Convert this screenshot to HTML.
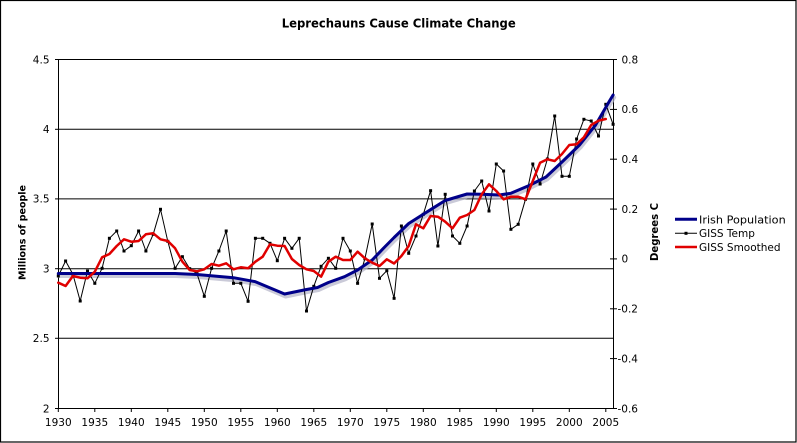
<!DOCTYPE html>
<html><head><meta charset="utf-8"><style>
html,body{margin:0;padding:0;background:#fff;}
svg{display:block;}
text{font-family:"DejaVu Sans","Liberation Sans",sans-serif;fill:#000;}
</style></head><body>
<svg width="797" height="443" viewBox="0 0 797 443" xmlns="http://www.w3.org/2000/svg">
<rect x="0.5" y="0.5" width="795.5" height="441.5" fill="#fff" stroke="#000" stroke-width="1.2"/>
<text x="398.7" y="27.7" font-size="12" font-weight="bold" text-anchor="middle" textLength="234" lengthAdjust="spacingAndGlyphs">Leprechauns Cause Climate Change</text>

<!-- gridlines -->
<g stroke="#000" stroke-width="1">
<line x1="58" y1="59.5" x2="613.5" y2="59.5"/>
<line x1="58" y1="129.3" x2="613.5" y2="129.3"/>
<line x1="58" y1="198.9" x2="613.5" y2="198.9"/>
<line x1="58" y1="268.7" x2="613.5" y2="268.7"/>
<line x1="58" y1="338.3" x2="613.5" y2="338.3"/>
<line x1="58" y1="408.5" x2="613.5" y2="408.5"/>
<line x1="58.5" y1="59" x2="58.5" y2="409"/>
<line x1="613.5" y1="59" x2="613.5" y2="409"/>
<!-- left ticks -->
<line x1="55" y1="59.5" x2="58" y2="59.5"/>
<line x1="55" y1="129.3" x2="58" y2="129.3"/>
<line x1="55" y1="198.9" x2="58" y2="198.9"/>
<line x1="55" y1="268.7" x2="58" y2="268.7"/>
<line x1="55" y1="338.3" x2="58" y2="338.3"/>
<line x1="55" y1="408.5" x2="58" y2="408.5"/>
<!-- right ticks -->
<line x1="610" y1="59.5" x2="617" y2="59.5"/>
<line x1="610" y1="109.4" x2="617" y2="109.4"/>
<line x1="610" y1="159.2" x2="617" y2="159.2"/>
<line x1="610" y1="209.1" x2="617" y2="209.1"/>
<line x1="610" y1="258.9" x2="617" y2="258.9"/>
<line x1="610" y1="308.8" x2="617" y2="308.8"/>
<line x1="610" y1="358.6" x2="617" y2="358.6"/>
<line x1="610" y1="408.5" x2="617" y2="408.5"/>
<!-- bottom ticks -->
<line x1="58.3" y1="408" x2="58.3" y2="412"/>
<line x1="94.8" y1="408" x2="94.8" y2="412"/>
<line x1="131.3" y1="408" x2="131.3" y2="412"/>
<line x1="167.8" y1="408" x2="167.8" y2="412"/>
<line x1="204.3" y1="408" x2="204.3" y2="412"/>
<line x1="240.8" y1="408" x2="240.8" y2="412"/>
<line x1="277.3" y1="408" x2="277.3" y2="412"/>
<line x1="313.8" y1="408" x2="313.8" y2="412"/>
<line x1="350.3" y1="408" x2="350.3" y2="412"/>
<line x1="386.8" y1="408" x2="386.8" y2="412"/>
<line x1="423.3" y1="408" x2="423.3" y2="412"/>
<line x1="459.8" y1="408" x2="459.8" y2="412"/>
<line x1="496.3" y1="408" x2="496.3" y2="412"/>
<line x1="532.8" y1="408" x2="532.8" y2="412"/>
<line x1="569.3" y1="408" x2="569.3" y2="412"/>
<line x1="605.8" y1="408" x2="605.8" y2="412"/>
</g>

<!-- left labels -->
<g font-size="10.5" text-anchor="end">
<text x="49.5" y="63.3">4.5</text>
<text x="49.5" y="133.1">4</text>
<text x="49.5" y="202.7">3.5</text>
<text x="49.5" y="272.5">3</text>
<text x="49.5" y="342.1">2.5</text>
<text x="49.5" y="412.3">2</text>
</g>
<!-- right labels -->
<g font-size="10.5">
<text x="621.5" y="63.3">0.8</text>
<text x="621.5" y="113.2">0.6</text>
<text x="621.5" y="163">0.4</text>
<text x="621.5" y="212.9">0.2</text>
<text x="621.5" y="262.7">0</text>
<text x="617.5" y="312.6">-0.2</text>
<text x="617.5" y="362.4">-0.4</text>
<text x="617.5" y="412.3">-0.6</text>
</g>
<!-- x labels -->
<g font-size="10.5" text-anchor="middle">
<text x="58.3" y="426">1930</text>
<text x="94.8" y="426">1935</text>
<text x="131.3" y="426">1940</text>
<text x="167.8" y="426">1945</text>
<text x="204.3" y="426">1950</text>
<text x="240.8" y="426">1955</text>
<text x="277.3" y="426">1960</text>
<text x="313.8" y="426">1965</text>
<text x="350.3" y="426">1970</text>
<text x="386.8" y="426">1975</text>
<text x="423.3" y="426">1980</text>
<text x="459.8" y="426">1985</text>
<text x="496.3" y="426">1990</text>
<text x="532.8" y="426">1995</text>
<text x="569.3" y="426">2000</text>
<text x="605.8" y="426">2005</text>
</g>

<!-- axis titles -->
<text transform="translate(25.5,232.5) rotate(-90)" font-size="10" font-weight="bold" text-anchor="middle" textLength="95" lengthAdjust="spacingAndGlyphs">Millions of people</text>
<text transform="translate(658,232) rotate(-90)" font-size="10.5" font-weight="bold" text-anchor="middle" textLength="58" lengthAdjust="spacingAndGlyphs">Degrees C</text>

<!-- blue shadow -->
<polyline fill="none" stroke="#b4b4c8" stroke-opacity="0.7" stroke-width="4" stroke-linejoin="round" stroke-linecap="round" transform="translate(1,2.5)"
points="58.3,273.5 175.1,273.5 197,274.5 233.5,277.7 255.4,281.7 284.6,294 306.5,289.5 317.5,287.5 328.4,282.5 344.5,276.7 357.6,270 372.2,260 384.7,247 394.1,237.5 408.7,223.5 434.3,207.3 445.2,200.5 467.1,194 481.7,194.3 499.2,195 510.9,193.3 529.2,185.5 546,177 562,162 579.5,145 595.6,125 609.5,101 613.1,95"/>

<!-- GISS temp -->
<polyline fill="none" stroke="#000" stroke-width="1" stroke-linejoin="round"
points="58.3,276 65.6,261 72.9,274.3 80.2,301 87.5,271 94.8,283.3 102.1,268.3 109.4,238.3 116.7,231 124,251 131.3,245.7 138.6,231 145.9,251 153.2,234.3 160.5,209.3 167.8,241.3 175.1,268.3 182.4,256.7 189.7,268.7 197,273.7 204.3,296.3 211.6,268.3 218.9,251 226.2,231 233.5,283.3 240.8,283.3 248.1,301.3 255.4,238.3 262.7,238.3 270,243.3 277.3,260.7 284.6,238.3 291.9,248.3 299.2,238.3 306.5,311 313.8,286.3 321.1,266.3 328.4,258.3 335.7,268.3 343,238.3 350.3,251 357.6,283.3 364.9,258.7 372.2,224 379.5,278.3 386.8,270.7 394.1,298.3 401.4,226 408.7,253.3 416,236 423.3,214.3 430.6,190.7 437.9,246 445.2,194.3 452.5,236 459.8,243.3 467.1,226 474.4,191 481.7,181 489,211 496.3,164 503.6,171 510.9,229.3 518.2,224.3 525.5,199.3 532.8,164 540.1,184 547.4,159 554.7,116 562,176.3 569.3,176.3 576.6,139 583.9,119.3 591.2,121 598.5,136 605.8,104.3 613.1,124.3"/>
<g fill="#000">
<rect x="56.8" y="274.5" width="3" height="3"/><rect x="64.1" y="259.5" width="3" height="3"/><rect x="71.4" y="272.8" width="3" height="3"/><rect x="78.7" y="299.5" width="3" height="3"/><rect x="86" y="269.5" width="3" height="3"/><rect x="93.3" y="281.8" width="3" height="3"/><rect x="100.6" y="266.8" width="3" height="3"/><rect x="107.9" y="236.8" width="3" height="3"/><rect x="115.2" y="229.5" width="3" height="3"/><rect x="122.5" y="249.5" width="3" height="3"/><rect x="129.8" y="244.2" width="3" height="3"/><rect x="137.1" y="229.5" width="3" height="3"/><rect x="144.4" y="249.5" width="3" height="3"/><rect x="151.7" y="232.8" width="3" height="3"/><rect x="159" y="207.8" width="3" height="3"/><rect x="166.3" y="239.8" width="3" height="3"/><rect x="173.6" y="266.8" width="3" height="3"/><rect x="180.9" y="255.2" width="3" height="3"/><rect x="188.2" y="267.2" width="3" height="3"/><rect x="195.5" y="272.2" width="3" height="3"/><rect x="202.8" y="294.8" width="3" height="3"/><rect x="210.1" y="266.8" width="3" height="3"/><rect x="217.4" y="249.5" width="3" height="3"/><rect x="224.7" y="229.5" width="3" height="3"/><rect x="232" y="281.8" width="3" height="3"/><rect x="239.3" y="281.8" width="3" height="3"/><rect x="246.6" y="299.8" width="3" height="3"/><rect x="253.9" y="236.8" width="3" height="3"/><rect x="261.2" y="236.8" width="3" height="3"/><rect x="268.5" y="241.8" width="3" height="3"/><rect x="275.8" y="259.2" width="3" height="3"/><rect x="283.1" y="236.8" width="3" height="3"/><rect x="290.4" y="246.8" width="3" height="3"/><rect x="297.7" y="236.8" width="3" height="3"/><rect x="305" y="309.5" width="3" height="3"/><rect x="312.3" y="284.8" width="3" height="3"/><rect x="319.6" y="264.8" width="3" height="3"/><rect x="326.9" y="256.8" width="3" height="3"/><rect x="334.2" y="266.8" width="3" height="3"/><rect x="341.5" y="236.8" width="3" height="3"/><rect x="348.8" y="249.5" width="3" height="3"/><rect x="356.1" y="281.8" width="3" height="3"/><rect x="363.4" y="257.2" width="3" height="3"/><rect x="370.7" y="222.5" width="3" height="3"/><rect x="378" y="276.8" width="3" height="3"/><rect x="385.3" y="269.2" width="3" height="3"/><rect x="392.6" y="296.8" width="3" height="3"/><rect x="399.9" y="224.5" width="3" height="3"/><rect x="407.2" y="251.8" width="3" height="3"/><rect x="414.5" y="234.5" width="3" height="3"/><rect x="421.8" y="212.8" width="3" height="3"/><rect x="429.1" y="189.2" width="3" height="3"/><rect x="436.4" y="244.5" width="3" height="3"/><rect x="443.7" y="192.8" width="3" height="3"/><rect x="451" y="234.5" width="3" height="3"/><rect x="458.3" y="241.8" width="3" height="3"/><rect x="465.6" y="224.5" width="3" height="3"/><rect x="472.9" y="189.5" width="3" height="3"/><rect x="480.2" y="179.5" width="3" height="3"/><rect x="487.5" y="209.5" width="3" height="3"/><rect x="494.8" y="162.5" width="3" height="3"/><rect x="502.1" y="169.5" width="3" height="3"/><rect x="509.4" y="227.8" width="3" height="3"/><rect x="516.7" y="222.8" width="3" height="3"/><rect x="524" y="197.8" width="3" height="3"/><rect x="531.3" y="162.5" width="3" height="3"/><rect x="538.6" y="182.5" width="3" height="3"/><rect x="545.9" y="157.5" width="3" height="3"/><rect x="553.2" y="114.5" width="3" height="3"/><rect x="560.5" y="174.8" width="3" height="3"/><rect x="567.8" y="174.8" width="3" height="3"/><rect x="575.1" y="137.5" width="3" height="3"/><rect x="582.4" y="117.8" width="3" height="3"/><rect x="589.7" y="119.5" width="3" height="3"/><rect x="597" y="134.5" width="3" height="3"/><rect x="604.3" y="102.8" width="3" height="3"/><rect x="611.6" y="122.8" width="3" height="3"/>
</g>

<!-- Irish population -->
<polyline fill="none" stroke="#00008a" stroke-width="3" stroke-linejoin="round" stroke-linecap="round"
points="58.3,273.5 175.1,273.5 197,274.5 233.5,277.7 255.4,281.7 284.6,294 306.5,289.5 317.5,287.5 328.4,282.5 344.5,276.7 357.6,270 372.2,260 384.7,247 394.1,237.5 408.7,223.5 434.3,207.3 445.2,200.5 467.1,194 481.7,194.3 499.2,195 510.9,193.3 529.2,185.5 546,177 562,162 579.5,145 595.6,125 609.5,101 613.1,95"/>

<!-- GISS smoothed -->
<polyline fill="none" stroke="#e00000" stroke-width="2.5" stroke-linejoin="round" stroke-linecap="round"
points="58.3,282.7 65.6,286 72.9,276 80.2,277.7 87.5,278.3 94.8,271.7 102.1,257.3 109.4,254 116.7,246 124,239.3 131.3,241.7 138.6,241 145.9,234.3 153.2,233.3 160.5,239.3 167.8,241 175.1,248.3 182.4,261.7 189.7,270 197,271.3 204.3,269.3 211.6,264 218.9,265.7 226.2,263.3 233.5,269.3 240.8,267.3 248.1,268.3 255.4,261.7 262.7,256.7 270,244.3 277.3,245.7 284.6,246 291.9,259 299.2,265 306.5,269.3 313.8,271 321.1,276.7 328.4,261.7 335.7,256.7 343,260 350.3,260 357.6,251.7 364.9,258.3 372.2,262.7 379.5,266 386.8,259.3 394.1,263.5 401.4,256 408.7,246 416,224.3 423.3,228.3 430.6,216 437.9,216.7 445.2,221.7 452.5,228.3 459.8,217.7 467.1,215 474.4,210 481.7,194.3 489,184.3 496.3,191 503.6,199.3 510.9,196.7 518.2,196.7 525.5,199.3 532.8,181 540.1,162.7 547.4,159.3 554.7,161 562,154 569.3,145 576.6,144.3 583.9,137.3 591.2,125 598.5,120.7 605.8,119"/>

<!-- legend -->
<line x1="675" y1="219.3" x2="697" y2="219.3" stroke="#00008a" stroke-width="3"/>
<line x1="675" y1="233.3" x2="697" y2="233.3" stroke="#000" stroke-width="1"/>
<rect x="684.5" y="231.8" width="3" height="3" fill="#000"/>
<line x1="675" y1="247" x2="697" y2="247" stroke="#e00000" stroke-width="2.5"/>
<g font-size="10.5">
<text x="699" y="223.3" textLength="86.7" lengthAdjust="spacingAndGlyphs">Irish Population</text>
<text x="699" y="237.2">GISS Temp</text>
<text x="699" y="251">GISS Smoothed</text>
</g>
</svg>
</body></html>
